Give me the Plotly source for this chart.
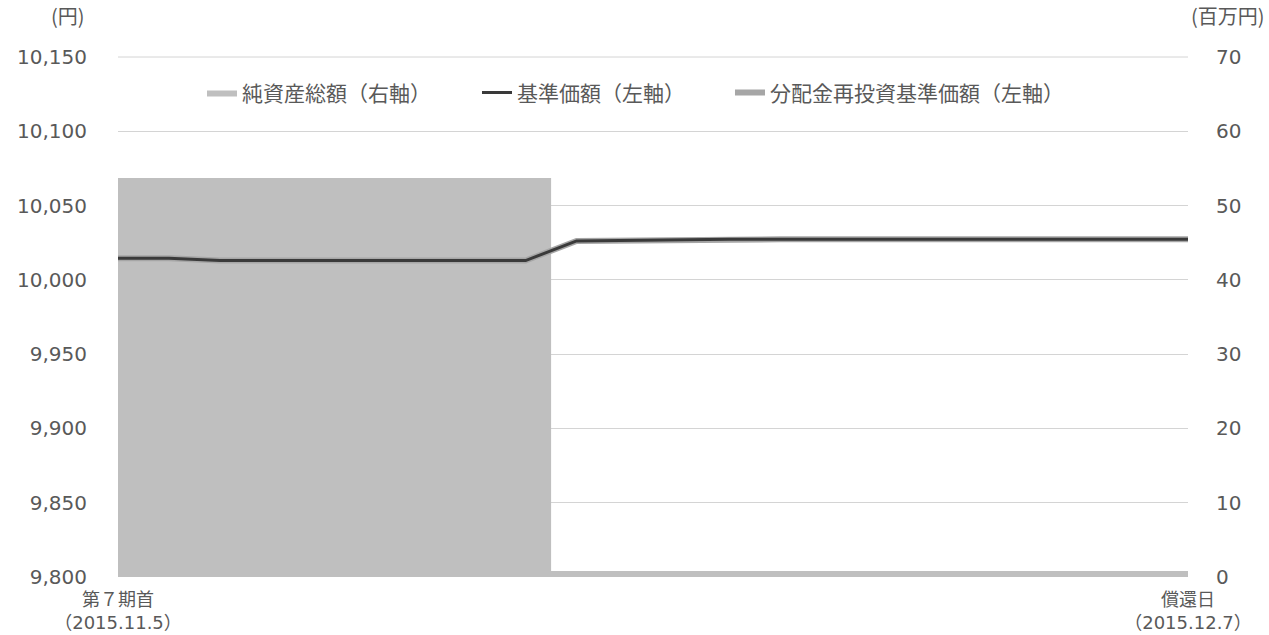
import plotly.graph_objects as go

# ---- data ----
dates = ["2015-11-05", "2015-11-06", "2015-11-09", "2015-11-10", "2015-11-11",
         "2015-11-12", "2015-11-13", "2015-11-16", "2015-11-17", "2015-11-18",
         "2015-11-19", "2015-11-20", "2015-11-24", "2015-11-25", "2015-11-26",
         "2015-11-27", "2015-11-30", "2015-12-01", "2015-12-02", "2015-12-03",
         "2015-12-04", "2015-12-07"]
nav = [10014.5, 10014.5, 10013.0, 10013.0, 10013.0, 10013.0, 10013.0, 10013.0,
       10013.0, 10026.2, 10026.6, 10027.2, 10027.3, 10027.3, 10027.3, 10027.3,
       10027.3, 10027.3, 10027.3, 10027.3, 10027.3, 10027.3]
nav_reinvest = [10014.5, 10014.5, 10013.0, 10013.0, 10013.0, 10013.0, 10013.0, 10013.0,
                10013.0, 10026.2, 10026.6, 10027.2, 10027.3, 10027.3, 10027.3, 10027.3,
                10027.3, 10027.3, 10027.3, 10027.3, 10027.3, 10027.3]
net_assets = [53.7, 53.7, 53.7, 53.7, 53.7, 53.7, 53.7, 53.7, 53.7,
              0.8, 0.8, 0.8, 0.8, 0.8, 0.8, 0.8, 0.8, 0.8, 0.8, 0.8, 0.8, 0.8]
x_tick_labels = ["第７期首<br>（2015.11.5）", "償還日<br>（2015.12.7）"]
left_ticks = [9800, 9850, 9900, 9950, 10000, 10050, 10100, 10150]
right_ticks = [0, 10, 20, 30, 40, 50, 60, 70]

TXT = "#595959"
CJK = "Noto Sans CJK JP"
NUM = "DejaVu Sans, Noto Sans CJK JP"
GRID = "#d4d4d4"

fig = go.Figure()
fig.add_trace(go.Scatter(
    x=dates, y=net_assets, name="純資産総額（右軸）", yaxis="y",
    mode="lines", fill="tozeroy", fillcolor="#bfbfbf",
    line=dict(width=0, shape="hvh", color="#bfbfbf"), legendrank=1,
    legendwidth=230,
))
fig.add_trace(go.Scatter(
    x=dates, y=nav_reinvest, name="分配金再投資基準価額（左軸）", yaxis="y2",
    mode="lines", line=dict(color="#a6a6a6", width=6), legendrank=3,
))
fig.add_trace(go.Scatter(
    x=dates, y=nav, name="基準価額（左軸）", yaxis="y2",
    mode="lines", line=dict(color="#3a3a3a", width=3), legendrank=2,
    legendwidth=208,
))

fig.update_layout(
    width=1269, height=635,
    margin=dict(l=118, r=81, t=57, b=58),
    paper_bgcolor="white", plot_bgcolor="white",
    showlegend=True,
    legend=dict(orientation="h", x=0.0785, xanchor="left", y=0.931, yanchor="middle",
                font=dict(family=CJK, size=21, color=TXT), bgcolor="rgba(0,0,0,0)",
                itemwidth=30),
    xaxis=dict(type="category", range=[0, len(dates) - 1], automargin=False,
               tickvals=[dates[0], dates[-1]], ticktext=x_tick_labels,
               showgrid=False, zeroline=False, showline=False, ticks="",
               ticklabelstandoff=10,
               tickfont=dict(family=NUM, size=18, color=TXT), tickangle=0),
    yaxis=dict(side="right", range=[0, 70], tickvals=right_ticks, automargin=False,
               showgrid=True, gridcolor=GRID, gridwidth=1, zeroline=False,
               showline=False, ticks="", ticklabelstandoff=27,
               tickfont=dict(family=NUM, size=20, color=TXT)),
    yaxis2=dict(side="left", overlaying="y", range=[9800, 10150], tickvals=left_ticks,
                automargin=False,
                tickformat=",d", showgrid=False, zeroline=False, showline=False,
                ticks="", ticklabelstandoff=30,
                tickfont=dict(family=NUM, size=20, color=TXT)),
    shapes=[
        dict(type="line", xref="paper", yref="paper", x0=0, x1=1, y0=1, y1=1,
             line=dict(color=GRID, width=1), layer="below"),
    ],
    annotations=[
        dict(text="(円)", xref="paper", yref="paper", x=-0.0467, y=1.08,
             xanchor="center", yanchor="middle", showarrow=False,
             font=dict(family=CJK, size=20, color=TXT)),
        dict(text="(百万円)", xref="paper", yref="paper", x=1.0374, y=1.08,
             xanchor="center", yanchor="middle", showarrow=False,
             font=dict(family=CJK, size=20, color=TXT)),
    ],
)

fig.write_html("out.html")
